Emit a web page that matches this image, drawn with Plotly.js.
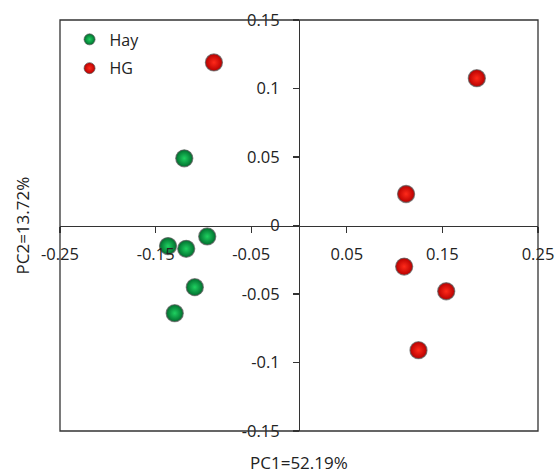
<!DOCTYPE html>
<html>
<head>
<meta charset="utf-8">
<script src="https://cdn.plot.ly/plotly-3.0.1.min.js"></script>
<style>html,body{margin:0;padding:0;background:#fff;}#chart{width:556px;height:473px;}</style>
</head>
<body>
<div id="chart"></div>
<script>
// Data
const hayPC1 = [-0.120, -0.137, -0.118, -0.096, -0.109, -0.130];
const hayPC2 = [0.049, -0.015, -0.017, -0.008, -0.045, -0.064];
const hgPC1 = [-0.089, 0.186, 0.112, 0.110, 0.154, 0.125];
const hgPC2 = [0.119, 0.1075, 0.023, -0.030, -0.048, -0.091];
const xTickVals = [-0.25, -0.15, -0.05, 0.05, 0.15, 0.25];
const xTickText = ["-0.25", "-0.15", "-0.05", "0.05", "0.15", "0.25"];
const yTickVals = [-0.15, -0.1, -0.05, 0, 0.05, 0.1, 0.15];
const yTickText = ["-0.15", "-0.1", "-0.05", "0", "0.05", "0.1", "0.15"];
const seriesNames = ["Hay", "HG"];
const xTitle = "PC1=52.19%";
const yTitle = "PC2=13.72%";

const FONT = "Open Sans, sans-serif";
const green = {c: "#006e2e", g: "#1fd060"};
const red = {c: "#b80000", g: "#ff2a1a"};

function pts(x, y, col) {
  return {
    type: "scatter", mode: "markers", x: x, y: y, showlegend: false, hoverinfo: "skip",
    marker: {size: 17, color: col.c, gradient: {type: "radial", color: col.g},
             line: {color: "rgba(90,90,90,0.7)", width: 1.3}}
  };
}
function leg(name, col, lg) {
  return {
    type: "scatter", mode: "markers", x: [null], y: [null], name: name, showlegend: true, legend: lg,
    marker: {size: 11, color: col.c, gradient: {type: "radial", color: col.g},
             line: {color: "rgba(90,90,90,0.7)", width: 1}}
  };
}

const data = [
  pts(hayPC1, hayPC2, green),
  pts(hgPC1, hgPC2, red),
  leg(seriesNames[0], green, "legend"),
  leg(seriesNames[1], red, "legend2")
];

const axisCommon = {
  showgrid: false, zeroline: false, showline: true, linecolor: "#333", linewidth: 1.3,
  ticks: "outside", ticklen: 6, tickwidth: 1.2, tickcolor: "#333",
  tickfont: {family: FONT, size: 16.5, color: "#222"}, anchor: "free", position: 0.5,
  fixedrange: true
};

const legendCommon = {xanchor: "left", yanchor: "top", bgcolor: "rgba(0,0,0,0)",
  font: {family: FONT, size: 16, color: "#222"}};

const layout = {
  width: 556, height: 473,
  margin: {l: 60, r: 18, t: 20, b: 42},
  paper_bgcolor: "#fff", plot_bgcolor: "#fff",
  font: {family: FONT, color: "#222"},
  xaxis: Object.assign({}, axisCommon, {range: [-0.25, 0.25], domain: [0, 1],
    tickmode: "array", tickvals: xTickVals, ticktext: xTickText, ticklabelstandoff: 7}),
  yaxis: Object.assign({}, axisCommon, {range: [-0.15, 0.15], domain: [0, 1],
    tickmode: "array", tickvals: yTickVals, ticktext: yTickText, ticklabelstandoff: 10}),
  shapes: [{type: "rect", xref: "paper", yref: "paper", x0: 0, x1: 1, y0: 0, y1: 1,
            line: {color: "#333", width: 1.3}}],
  legend: Object.assign({}, legendCommon, {x: 0.02, y: 0.994}),
  legend2: Object.assign({}, legendCommon, {x: 0.02, y: 0.924}),
  annotations: [
    {text: xTitle, xref: "paper", yref: "paper", x: 0.5, y: 0, yshift: -31,
     xanchor: "center", yanchor: "middle", showarrow: false,
     font: {family: FONT, size: 17, color: "#222"}},
    {text: yTitle, xref: "paper", yref: "paper", x: 0, xshift: -38, y: 0.5,
     xanchor: "center", yanchor: "middle", textangle: -90, showarrow: false,
     font: {family: FONT, size: 17, color: "#222"}}
  ]
};

Plotly.newPlot("chart", data, layout, {displayModeBar: false, staticPlot: true});
</script>
</body>
</html>
